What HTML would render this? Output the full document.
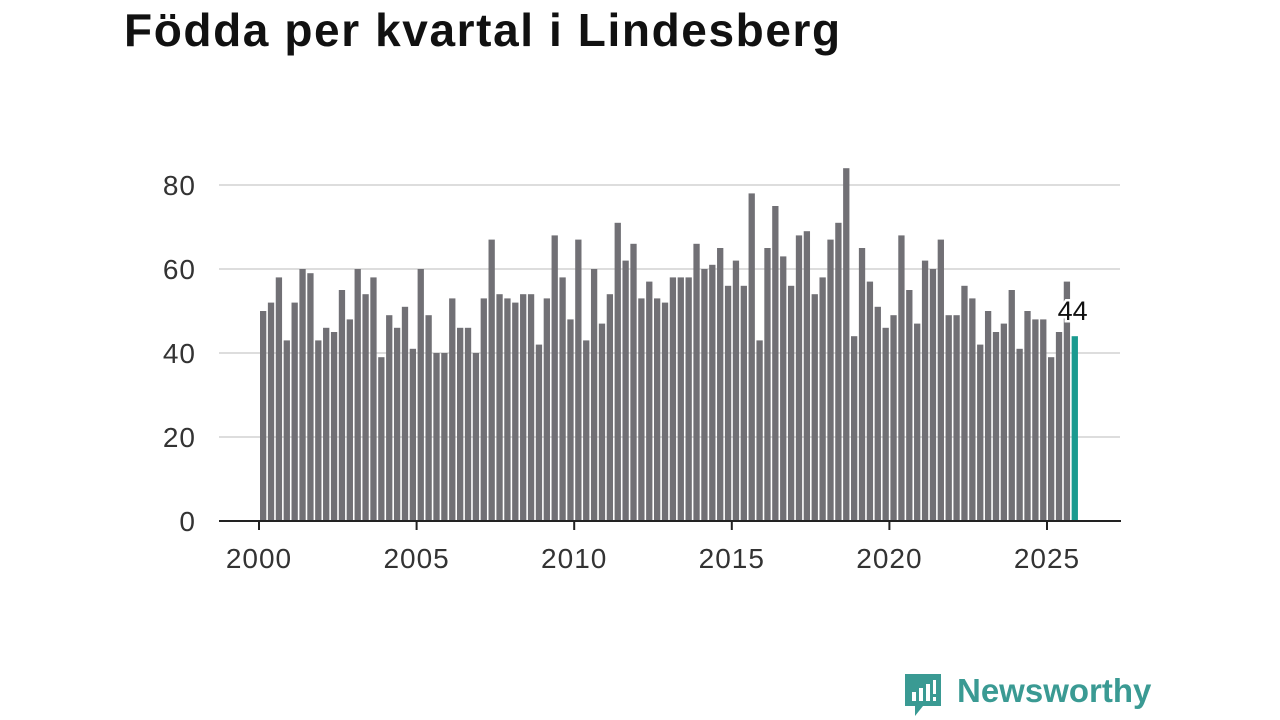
<!DOCTYPE html>
<html><head><meta charset="utf-8"><style>
body{margin:0;width:1280px;height:720px;background:#fff;font-family:"Liberation Sans","DejaVu Sans",sans-serif;overflow:hidden;position:relative}
h1{position:absolute;left:124px;top:3px;margin:0;font-size:46px;font-weight:bold;color:#111;letter-spacing:1.6px}
</style></head><body>
<h1>Födda per kvartal i Lindesberg</h1>
<svg id="chart" width="1280" height="720" style="position:absolute;left:0;top:0"></svg>
<div style="position:absolute;left:903px;top:672px;display:flex;align-items:center">
<svg width="40" height="46"><path d="M2 2h36v32H20l-8 10v-10H2z" fill="#3a9a93"/><rect x="9" y="20" width="4" height="9" fill="#fff"/><rect x="16" y="16" width="4" height="13" fill="#fff"/><rect x="23" y="12" width="4" height="17" fill="#fff"/><rect x="30" y="8" width="3" height="14" fill="#fff"/><rect x="30" y="25" width="3" height="4" fill="#fff"/></svg>
<span style="font-size:33px;font-weight:bold;color:#3a9a93;margin-left:14px;margin-top:-8px">Newsworthy</span></div>
<script>
const startYear=2000;
const values=[50,52,58,43, 52,60,59,43, 46,45,55,48, 60,54,58,39, 49,46,51,41, 60,49,40,40, 53,46,46,40, 53,67,54,53, 52,54,54,42, 53,68,58,48, 67,43,60,47, 54,71,62,66, 53,57,53,52, 58,58,58,66, 60,61,65,56, 62,56,78,43, 65,75,63,56, 68,69,54,58, 67,71,84,44, 65,57,51,46, 49,68,55,47, 62,60,67,49, 49,56,53,42, 50,45,47,55, 41,50,48,48, 39,45,57,44];
const yTicks=[0,20,40,60,80];
const xTicks=[2000,2005,2010,2015,2020,2025];
const NS="http://www.w3.org/2000/svg";
const svg=document.getElementById('chart');
const x=t=>259+(t-2000)*31.52;
const y=v=>521-v*4.2;
function el(tag,a){const e=document.createElementNS(NS,tag);for(const k in a)e.setAttribute(k,a[k]);svg.appendChild(e);return e;}
yTicks.forEach(v=>{
  if(v>0){const g=el('line',{x1:219,x2:1120,y1:y(v),y2:y(v),stroke:'#ddd','stroke-width':2});
  
  }
  const t=el('text',{x:196,y:y(v)+10,'text-anchor':'end','font-size':28,'letter-spacing':1,fill:'#333'});t.textContent=v;
  
  
});
values.forEach((v,i)=>{
  const t=startYear+i/4;const last=i===values.length-1;
  const r=el('rect',{x:x(t)+1,y:y(v),width:6.3,height:y(0)-y(v),fill:last?'#1a9a8f':'#717075'});
  
  
});
const li=values.length-1;
const lab=el('text',{x:x(startYear+li/4)+2,y:y(values[li])-16,'text-anchor':'middle','font-size':27,fill:'#111',stroke:'#fff','stroke-width':5,'paint-order':'stroke'});
lab.textContent=values[li];


const ax=el('line',{x1:219,x2:1121,y1:521,y2:521,stroke:'#222','stroke-width':2});


xTicks.forEach(v=>{
  const tk=el('line',{x1:x(v),x2:x(v),y1:521,y2:530,stroke:'#222','stroke-width':2});
  
  
  const t=el('text',{x:x(v),y:568,'text-anchor':'middle','font-size':28,'letter-spacing':1,fill:'#333'});t.textContent=v;
  
  
});
</script>
</body></html>
